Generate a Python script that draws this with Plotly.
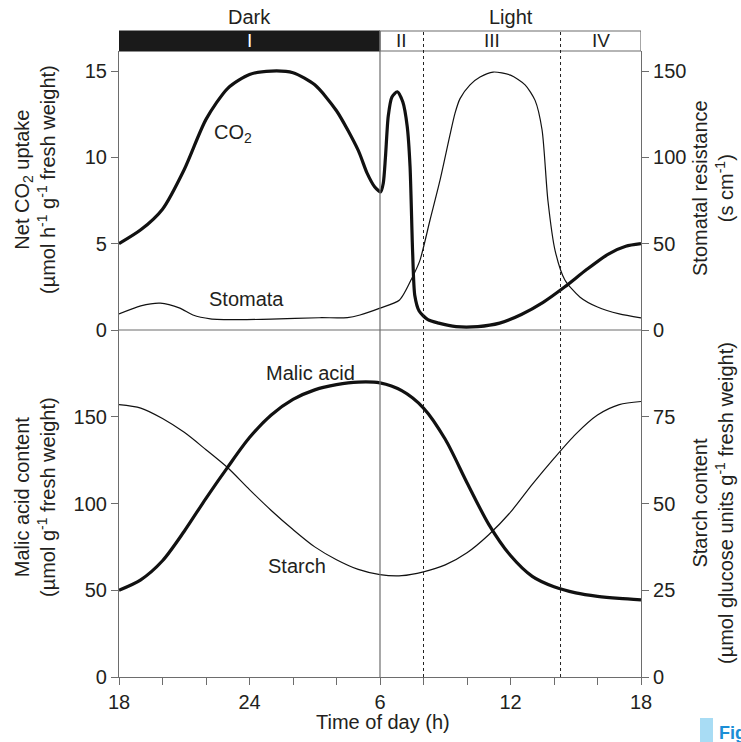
import plotly.graph_objects as go

# ---- data (time in hours, 18 = 18:00 on day 1, 42 = 18:00 next day) ----
co2_t = [18, 19, 20, 21, 22, 23, 24, 25, 26, 27, 28, 29, 29.4, 29.75, 30.03, 30.15, 30.25, 30.38, 30.55, 30.8,
         31.05, 31.25, 31.38, 31.5, 31.6, 31.8, 32.2, 32.7, 33.5, 34.5, 35.5, 36.5, 37.5, 38.5, 39.5, 40.5, 41.3, 42]
co2_v = [5.0, 5.8, 7.0, 9.3, 12.2, 14.0, 14.8, 15.0, 14.9, 14.2, 12.7, 10.4, 9.1, 8.3, 8.0, 8.5, 10.0, 12.4, 13.5, 13.8,
         13.2, 11.8, 9.5, 4.5, 2.0, 1.1, 0.6, 0.4, 0.2, 0.2, 0.4, 0.9, 1.6, 2.5, 3.5, 4.4, 4.85, 5.0]

stom_t = [18, 19, 19.9, 20.8, 21.4, 22.2, 23.5, 25, 27.2, 28.5, 29.08, 30, 30.9, 31.5, 31.84, 32.3, 32.76, 33.2,
          33.45, 33.68, 34.14, 34.6, 35.2, 36.0, 36.67, 37.13, 37.45, 37.72, 38.05, 38.5, 39.2, 40, 41, 42]
stom_v = [9.3, 14, 15.6, 12.7, 8.7, 6.5, 6.0, 6.3, 7.1, 7.2, 8.7, 12.7, 17.4, 30.9, 40.5, 63.7, 86.8, 112,
          125.6, 134, 142, 146.5, 149.4, 147.6, 142, 133, 116, 75, 46, 29, 19, 13.3, 9.3, 7]

malic_t = list(range(18, 43))
malic_v = [50, 56, 67, 84, 103, 121, 138, 151, 160, 165.5, 168.5, 170, 169.5, 165, 155, 137, 112, 88, 70, 58,
           52, 48.5, 46.5, 45.3, 44.5]

starch_t = list(range(18, 43))
starch_v = [78.5, 77.5, 74.5, 70.5, 65.5, 60.3, 54, 48, 42.5, 37.5, 33.8, 31, 29.5, 29.2, 30.3, 32.3, 35.8, 41,
            47.5, 55.5, 63, 70, 75.5, 78.5, 79.4]

x_tickvals = list(range(18, 43, 2))
x_ticktext = ['18', '', '', '24', '', '', '6', '', '', '12', '', '', '18']

phase_bounds = [18, 30, 32, 38.3, 42]
phase_names = ['I', 'II', 'III', 'IV']

# ---- layout helpers ----
W, H = 741, 742
L, R, T, B = 119, 100, 51, 65
PW, PH = W - L - R, H - T - B
def px(xp): return (xp - L) / PW
def py(yp): return (H - B - yp) / PH
split = py(330)

FONT = "Liberation Sans, Arial, sans-serif"
TXT = "#231f20"
AX = "#6d6d6d"
FS = 20

fig = go.Figure()
fig.add_trace(go.Scatter(x=co2_t, y=co2_v, mode='lines', xaxis='x', yaxis='y',
                         line=dict(color='#111', width=3.2, shape='spline', smoothing=0.7), hoverinfo='skip'))
fig.add_trace(go.Scatter(x=stom_t, y=stom_v, mode='lines', xaxis='x', yaxis='y3',
                         line=dict(color='#111', width=1.2, shape='spline', smoothing=0.7), hoverinfo='skip'))
fig.add_trace(go.Scatter(x=malic_t, y=malic_v, mode='lines', xaxis='x', yaxis='y2',
                         line=dict(color='#111', width=3.2, shape='spline', smoothing=0.8), hoverinfo='skip'))
fig.add_trace(go.Scatter(x=starch_t, y=starch_v, mode='lines', xaxis='x', yaxis='y4',
                         line=dict(color='#111', width=1.2, shape='spline', smoothing=0.8), hoverinfo='skip'))

axis_common = dict(showgrid=False, zeroline=False, showline=True, linecolor=AX, linewidth=1.2,
                   ticks='outside', ticklen=7, tickcolor=AX, tickwidth=1.2,
                   tickfont=dict(family=FONT, size=FS, color=TXT))

top_max = 16.16
fig.update_layout(
    width=W, height=H, margin=dict(l=L, r=R, t=T, b=B),
    paper_bgcolor='white', plot_bgcolor='white', showlegend=False,
    xaxis=dict(range=[18, 42], anchor='y2', tickvals=x_tickvals, ticktext=x_ticktext, **axis_common),
    yaxis=dict(domain=[split, 1], range=[0, top_max], anchor='x', tickvals=[0, 5, 10, 15], **axis_common),
    yaxis3=dict(overlaying='y', side='right', anchor='x', range=[0, top_max * 10],
                tickvals=[0, 50, 100, 150], **axis_common),
    yaxis2=dict(domain=[0, split], range=[0, 200], anchor='x', tickvals=[0, 50, 100, 150], **axis_common),
    yaxis4=dict(overlaying='y2', side='right', anchor='x', range=[0, 100],
                tickvals=[0, 25, 50, 75], **axis_common),
)

bar_top = py(31)
shapes = []
# separator between panels
shapes.append(dict(type='line', xref='paper', yref='paper', x0=0, x1=1, y0=split, y1=split,
                   line=dict(color=AX, width=1.2)))
# phase bar
shapes.append(dict(type='rect', xref='x', yref='paper', x0=phase_bounds[0], x1=phase_bounds[1], y0=1, y1=bar_top,
                   fillcolor='#1a1a1a', line=dict(color='#1a1a1a', width=1)))
shapes.append(dict(type='rect', xref='x', yref='paper', x0=phase_bounds[1], x1=phase_bounds[-1], y0=1, y1=bar_top,
                   fillcolor='white', line=dict(color=AX, width=1.2)))
# vertical phase lines
shapes.append(dict(type='line', xref='x', yref='paper', x0=phase_bounds[1], x1=phase_bounds[1], y0=0, y1=bar_top,
                   line=dict(color=AX, width=1.2)))
for xb in phase_bounds[2:4]:
    shapes.append(dict(type='line', xref='x', yref='paper', x0=xb, x1=xb, y0=0, y1=bar_top,
                       line=dict(color='#222', width=1, dash='3px,3px')))
# Fig. marker
shapes.append(dict(type='rect', xref='paper', yref='paper', x0=px(700), x1=px(713), y0=py(742), y1=py(718),
                   fillcolor='#a8dcf4', line=dict(width=0)))
fig.update_layout(shapes=shapes)

ann = []
def txt(x, y, s, xref='x', yref='paper', color=TXT, size=FS, angle=0, xanchor='center', bold=False):
    if bold:
        s = '<b>' + s + '</b>'
    ann.append(dict(x=x, y=y, xref=xref, yref=yref, text=s, showarrow=False, textangle=angle,
                    xanchor=xanchor, yanchor='middle', font=dict(family=FONT, size=size, color=color)))

bar_mid = (1 + bar_top) / 2
txt(24, py(17), 'Dark')
txt(36, py(17), 'Light')
for i, name in enumerate(phase_names):
    xc = (phase_bounds[i] + phase_bounds[i + 1]) / 2
    txt(xc, bar_mid, name, color='white' if i == 0 else TXT, size=19)

txt(px(233), py(133), 'CO<sub>2</sub>', xref='paper')
txt(px(246), py(299), 'Stomata', xref='paper')
txt(px(310), py(373), 'Malic acid', xref='paper')
txt(px(297), py(566), 'Starch', xref='paper')

txt(px(35), py(180), 'Net CO<sub>2</sub> uptake<br>(µmol h<sup>-1</sup> g<sup>-1</sup> fresh weight)',
    xref='paper', angle=-90)
txt(px(713), py(188), 'Stomatal resistance<br>(s cm<sup>-1</sup>)', xref='paper', angle=-90)
txt(px(35), py(497), 'Malic acid content<br>(µmol g<sup>-1</sup> fresh weight)', xref='paper', angle=-90)
txt(px(713), py(503), 'Starch content<br>(µmol glucose units g<sup>-1</sup> fresh weight)', xref='paper', angle=-90)
txt(px(383), py(722), 'Time of day (h)', xref='paper')
txt(px(717), py(733), 'Fig.', xref='paper', color='#1b8ed6', size=18, xanchor='left', bold=True)
fig.update_layout(annotations=ann)

fig.write_html("out.html", config={'displayModeBar': False},
               post_script="document.body.style.margin='0';")
